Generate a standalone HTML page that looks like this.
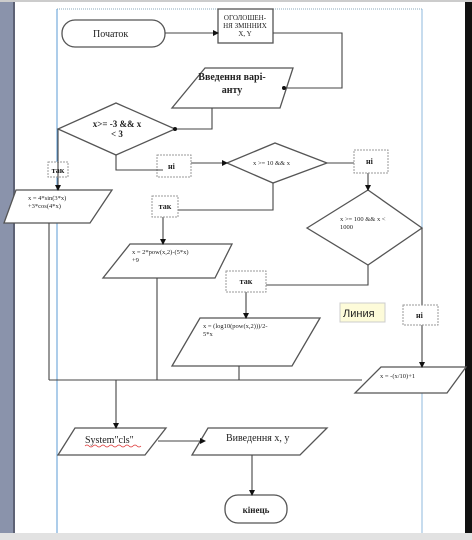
<!DOCTYPE html>
<html><head><meta charset="utf-8"><style>
html,body{margin:0;padding:0;background:#fff;}
svg{display:block;}
text{font-family:"Liberation Serif",serif;fill:#222;}
</style></head><body>
<svg width="472" height="540" viewBox="0 0 472 540" xmlns="http://www.w3.org/2000/svg">
<defs>
<marker id="a" markerWidth="6" markerHeight="6" refX="5" refY="3" orient="auto" markerUnits="userSpaceOnUse"><path d="M0,0 L6,3 L0,6z" fill="#111"/></marker>
</defs>
<rect x="0" y="0" width="472" height="540" fill="#fff"/>
<rect x="0" y="0" width="14" height="540" fill="#8a93ab"/>
<rect x="13" y="0" width="2" height="540" fill="#5d6275"/>
<rect x="465" y="0" width="7" height="540" fill="#111"/>
<rect x="0" y="533" width="472" height="7" fill="#e2e2e2"/>
<rect x="0" y="0" width="472" height="2" fill="#ccc"/>
<line x1="57" y1="9" x2="422" y2="9" stroke="#8ab" stroke-width="1" stroke-dasharray="1,1"/>
<line x1="57" y1="9" x2="57" y2="533" stroke="#5b9bd5" stroke-width="1"/>
<line x1="422" y1="9" x2="422" y2="533" stroke="#8fb8dd" stroke-width="1"/>

<g fill="none" stroke="#555" stroke-width="1.3">
<!-- start -->
<rect x="62" y="20" width="103" height="27" rx="13" fill="#fff"/>
<rect x="218" y="9" width="55" height="34" fill="#fff"/>
<!-- input parallelogram -->
<polygon points="205,68 293,68 280,108 172,108" fill="#fff"/>
<polygon points="58,129 116,103 175,129 116,155" fill="#fff"/>
<polygon points="227,163 275,143 327,163 273,183" fill="#fff"/>
<polygon points="307,228 368,190 422,228 368,265" fill="#fff"/>
<polygon points="16,190 112,190 90,223 4,223" fill="#fff"/>
<polygon points="130,244 232,244 215,278 103,278" fill="#fff"/>
<polygon points="200,318 320,318 292,366 172,366" fill="#fff"/>
<polygon points="381,367 466,367 447,393 355,393" fill="#fff"/>
<polygon points="75,428 166,428 145,455 58,455" fill="#fff"/>
<polygon points="208,428 327,428 300,455 192,455" fill="#fff"/>
<rect x="225" y="495" width="62" height="28" rx="13" fill="#fff"/>
</g>

<g fill="none" stroke="#444" stroke-width="1.1">
<line x1="165" y1="33" x2="218" y2="33" marker-end="url(#a)"/>
<polyline points="273,33 342,33 342,88 285,88"/>
<polyline points="212,108 212,129 175,129"/>
<polyline points="116,155 116,170 163,170"/>
<line x1="191" y1="163" x2="227" y2="163" marker-end="url(#a)"/>
<line x1="327" y1="163" x2="354" y2="163"/>
<line x1="368" y1="173" x2="368" y2="190" marker-end="url(#a)"/>
<polyline points="368,265 368,285 266,285"/>
<line x1="246" y1="292" x2="246" y2="318" marker-end="url(#a)"/>
<line x1="422" y1="228" x2="422" y2="367" marker-end="url(#a)"/>
<line x1="58" y1="129" x2="58" y2="190" marker-end="url(#a)"/>
<polyline points="273,183 273,210 178,210"/>
<line x1="163" y1="217" x2="163" y2="244" marker-end="url(#a)"/>
<line x1="49" y1="223" x2="49" y2="380"/>
<line x1="157" y1="278" x2="157" y2="380"/>
<line x1="239" y1="366" x2="239" y2="380"/>
<line x1="49" y1="380" x2="362" y2="380"/>
<line x1="116" y1="380" x2="116" y2="428" marker-end="url(#a)"/>
<line x1="158" y1="441" x2="205" y2="441" marker-end="url(#a)"/>
<line x1="252" y1="455" x2="252" y2="495" marker-end="url(#a)"/>
</g>
<circle cx="284" cy="88" r="2" fill="#111"/>
<circle cx="175" cy="129" r="2" fill="#111"/>

<!-- label boxes -->
<g fill="#fff" stroke="#999" stroke-width="1" stroke-dasharray="2,1">
<rect x="157" y="155" width="34" height="22"/>
<rect x="354" y="150" width="34" height="23"/>
<rect x="48" y="162" width="20" height="15"/>
<rect x="152" y="196" width="26" height="21"/>
<rect x="226" y="271" width="40" height="21"/>
<rect x="403" y="305" width="35" height="20"/>
</g>
<line x1="116" y1="170" x2="163" y2="170" stroke="#444" stroke-width="1.1"/>
<line x1="58" y1="162" x2="58" y2="177" stroke="#444" stroke-width="1.1"/>
<rect x="340" y="303" width="45" height="19" fill="#fdfbd9" stroke="#ccc"/>
<text x="343" y="317" font-size="11" style="font-family:'Liberation Sans',sans-serif">Линия</text>

<g font-size="10">
<text x="93" y="37">Початок</text>
<text x="245" y="20" font-size="7" text-anchor="middle">ОГОЛОШЕН-</text>
<text x="245" y="28" font-size="7" text-anchor="middle">НЯ ЗМІННИХ</text>
<text x="245" y="36" font-size="7" text-anchor="middle">X, Y</text>
<text x="232" y="80" font-size="10" text-anchor="middle" font-weight="bold">Введення варі-</text>
<text x="232" y="93" font-size="10" text-anchor="middle" font-weight="bold">анту</text>
<text x="117" y="127" font-size="9" text-anchor="middle" font-weight="bold">x&gt;= -3 &amp;&amp; x</text>
<text x="117" y="137" font-size="9" text-anchor="middle" font-weight="bold">&lt; 3</text>
<text x="168" y="169" font-size="8" font-weight="bold">ні</text>
<text x="58" y="173" font-size="8" text-anchor="middle" font-weight="bold">так</text>
<text x="253" y="165" font-size="6.5">x &gt;= 10 &amp;&amp; x</text>
<text x="366" y="164" font-size="8" font-weight="bold">ні</text>
<text x="165" y="209" font-size="8" text-anchor="middle" font-weight="bold">так</text>
<text x="340" y="221" font-size="6.5">x &gt;= 100 &amp;&amp; x &lt;</text>
<text x="340" y="229" font-size="6.5">1000</text>
<text x="28" y="200" font-size="6.5">x = 4*sin(3*x)</text>
<text x="28" y="208" font-size="6.5">+3*cos(4*x)</text>
<text x="132" y="254" font-size="6.5">x = 2*pow(x,2)-(5*x)</text>
<text x="132" y="262" font-size="6.5">+9</text>
<text x="246" y="284" font-size="8" text-anchor="middle" font-weight="bold">так</text>
<text x="203" y="328" font-size="6.5">x = (log10(pow(x,2)))/2-</text>
<text x="203" y="336" font-size="6.5">5*x</text>
<text x="416" y="318" font-size="8" font-weight="bold" fill="#666">ні</text>
<text x="380" y="378" font-size="6.5">x = -(x/10)+1</text>
<text x="85" y="443" font-size="10" fill="#222">System"cls"</text>
<text x="226" y="441" font-size="10">Виведення x, у</text>
<text x="256" y="513" font-size="9" text-anchor="middle" font-weight="bold">кінець</text>
</g>
<path d="M85,446 q2,-2 4,0 t4,0 t4,0 t4,0 t4,0 t4,0 t4,0 t4,0 t4,0 t4,0 t4,0 t4,0 t4,0 t4,0" fill="none" stroke="#d33" stroke-width="0.7"/>
</svg>
</body></html>
